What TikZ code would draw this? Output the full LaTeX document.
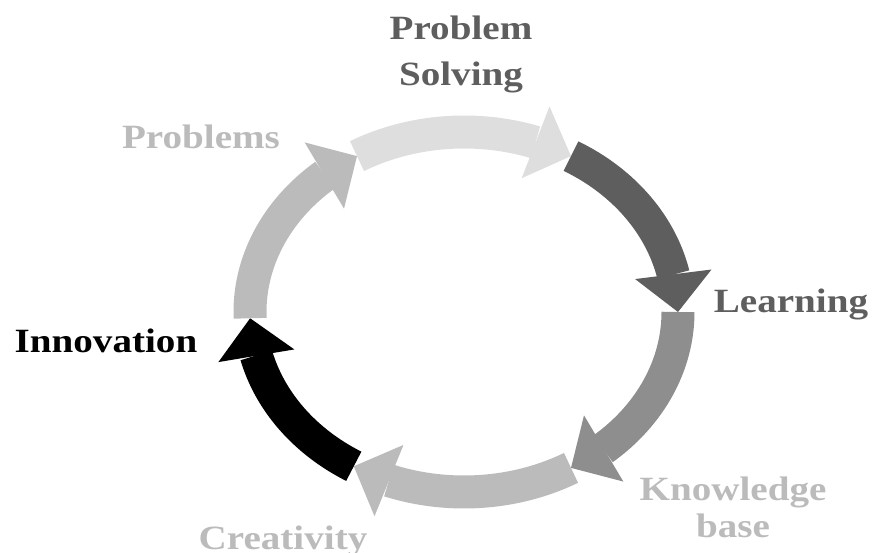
\documentclass[tikz,border=0pt]{standalone}
\usepackage{fontspec}
\setmainfont[FakeStretch=1.15]{Liberation Serif}
\usetikzlibrary{arrows.meta,bending}
\definecolor{paleGray}{HTML}{DEDEDE}
\definecolor{darkGray}{HTML}{5E5E5E}
\definecolor{midGray}{HTML}{8E8E8E}
\definecolor{softGray}{HTML}{BBBBBB}
\tikzset{
	cyclearrow/.style={line width=33pt,-{Triangle[width=77pt,length=38pt,line width=0pt,flex]}},
	label/.style={font=\fontsize{34}{46}\selectfont\bfseries,inner sep=0pt,align=center}
}
\begin{document}
\begin{tikzpicture}[x=1pt,y=1pt]
		\useasboundingbox (0,0) rectangle (874,553);
		\coordinate (c) at (464,241);
		
		%\draw[gray] (c) ellipse (214 and 180);
		\draw[cyclearrow,paleGray] ([shift={(120:214 and 180)}]c) arc[start angle=120,end angle=60,x radius=214,y radius=180];
		\draw[cyclearrow,darkGray] ([shift={(60:214 and 180)}]c) arc[start angle=60,end angle=0,x radius=214,y radius=180];
		\draw[cyclearrow,midGray] ([shift={(0:214 and 180)}]c) arc[start angle=0,end angle=-60,x radius=214,y radius=180];
		\draw[cyclearrow,softGray] ([shift={(-60:214 and 180)}]c) arc[start angle=-60,end angle=-121,x radius=214,y radius=180];
		\draw[cyclearrow,black] ([shift={(-121:214 and 180)}]c) arc[start angle=-121,end angle=-178,x radius=214,y radius=180];
		\draw[cyclearrow,softGray] ([shift={(182:214 and 180)}]c) arc[start angle=182,end angle=120,x radius=214,y radius=180];
		
		\node[label,darkGray] (solving) at (461,499) {Problem\\Solving};
		\node[label,softGray,anchor=base] (problems) at (201,404) {Problems};
		\node[label,darkGray,anchor=base] (learning) at (791,240) {Learning};
		\node[label,softGray,font=\fontsize{34}{37}\selectfont\bfseries] (knowledge) at (733,46) {Knowledge\\base};
		\node[label,softGray,anchor=base] (creativity) at (283,3) {Creativity};
		\node[label,black,anchor=base] (innovation) at (106,200) {Innovation};
	\end{tikzpicture}
\end{document}
